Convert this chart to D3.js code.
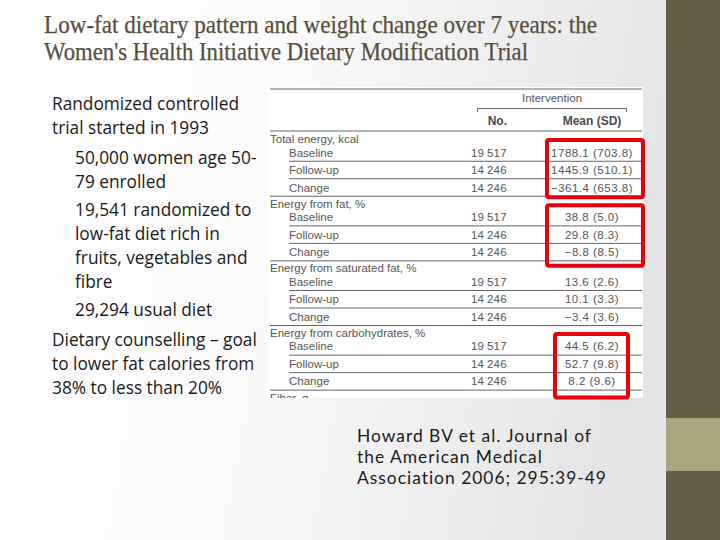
<!DOCTYPE html>
<html><head><meta charset="utf-8">
<script src="https://cdn.jsdelivr.net/npm/d3@7"></script>
<style>html,body{margin:0;padding:0;} svg{display:block;}</style>
</head><body>
<script>
// ---- data ----
const titleLines = [
  "Low-fat dietary pattern and weight change over 7 years: the",
  "Women's Health Initiative Dietary Modification Trial"
];
const bulletTexts = [
  "Randomized controlled", "trial started in 1993",
  "50,000 women age 50-", "79 enrolled",
  "19,541 randomized to", "low-fat diet rich in", "fruits, vegetables and", "fibre",
  "29,294 usual diet",
  "Dietary counselling \u2013 goal", "to lower fat calories from", "38% to less than 20%"
];
const bulletLevels = [0,0,1,1,1,1,1,1,1,0,0,0];
const citationLines = [
  "Howard BV et al. Journal of",
  "the American Medical",
  "Association 2006; 295:39-49"
];
const groups = [
  "Total energy, kcal",
  "Energy from fat, %",
  "Energy from saturated fat, %",
  "Energy from carbohydrates, %",
  "Fiber, g"
];
const rowLabels = ["Baseline", "Follow-up", "Change"];
const counts = [19517, 14246, 14246];
const means = [
  [1788.1, 1445.9, -361.4],
  [38.8, 29.8, -8.8],
  [13.6, 10.1, -3.4],
  [44.5, 52.7, 8.2]
];
const sds = [
  [703.8, 510.1, 653.8],
  [5.0, 8.3, 8.5],
  [2.6, 3.3, 3.6],
  [6.2, 9.8, 9.6]
];
const highlighted = [0, 1, 3];
const headerTop = "Intervention";
const headerCols = ["No.", "Mean (SD)"];

// ---- layout ----
const W = 720, H = 540;
const svg = d3.select("body").append("svg").attr("width", W).attr("height", H);
const defs = svg.append("defs");
const grad = defs.append("linearGradient").attr("id","bg").attr("x1","0").attr("x2","1").attr("y1","0").attr("y2","0.15");
grad.append("stop").attr("offset","0").attr("stop-color","#ffffff");
grad.append("stop").attr("offset","0.45").attr("stop-color","#fafafa");
grad.append("stop").attr("offset","1").attr("stop-color","#e5e5e7");
svg.append("rect").attr("width", 666).attr("height", H).attr("fill","url(#bg)");

// sidebar
svg.append("rect").attr("x",666).attr("y",0).attr("width",54).attr("height",H).attr("fill","#665e48");
svg.append("rect").attr("x",666).attr("y",418).attr("width",54).attr("height",53).attr("fill","#a9a57f");

// title
svg.append("g").selectAll("text").data(titleLines).join("text")
  .attr("x", 44)
  .attr("y", (d,i) => 33 + i*27)
  .attr("font-family", "'Liberation Serif', 'DejaVu Serif', serif")
  .attr("font-size", 25)
  .attr("fill", "#574f3e")
  .attr("stroke", "#574f3e")
  .attr("stroke-width", 0.25)
  .attr("textLength", (d,i) => i === 0 ? 553 : 484)
  .attr("lengthAdjust", "spacingAndGlyphs")
  .text(d => d);

// bullets
const bulletY = [104,128,158,182,210,234,258,282,310,340,364,388];
const xLevel = d3.scaleOrdinal().domain([0,1]).range([52,75]);
const bodyFont = "'Open Sans', Lato, sans-serif";
svg.append("g").selectAll("text").data(bulletTexts).join("text")
  .attr("x", (d,i) => xLevel(bulletLevels[i]))
  .attr("y", (d,i) => bulletY[i])
  .attr("dy", "0.35em")
  .attr("font-family", bodyFont)
  .attr("font-size", 17.3)
  .attr("fill", "#1a1a1a")
  .text(d => d);

// citation
svg.append("g").selectAll("text").data(citationLines).join("text")
  .attr("x", 357)
  .attr("y", (d,i) => 436 + i*21)
  .attr("dy", "0.35em")
  .attr("font-family", "Lato, 'Open Sans', sans-serif")
  .attr("font-size", 17.4)
  .attr("letter-spacing", 1.0)
  .attr("fill", "#1a1a1a")
  .text(d => d);

// ---- table ----
const tX0 = 268, tX1 = 643, tY0 = 87, tY1 = 398;
defs.append("clipPath").attr("id","tclip").append("rect")
  .attr("x", tX0).attr("y", tY0).attr("width", tX1-tX0).attr("height", tY1-tY0);
const tbl = svg.append("g").attr("clip-path","url(#tclip)");
tbl.append("rect").attr("x", tX0).attr("y", tY0).attr("width", tX1-tX0).attr("height", tY1-tY0).attr("fill","#ffffff");

const font = "'Liberation Sans', Arial, sans-serif";
const tcol = "#555555";
const fs = 11.5;
const xCol = d3.scaleOrdinal().domain(["group","row","n","mean"]).range([270, 289, 507, 592]);
const lineL = 270, lineR = 642;
const yGroup = d3.scaleLinear().domain([0, 4]).range([131, 389.5]);
const yRow = d3.scaleLinear().domain([0, 2]).range([21.5, 56.5]);
const rowH = yRow(1) - yRow(0);

// header
tbl.append("line").attr("x1", lineL).attr("x2", lineR).attr("y1", 89).attr("y2", 89).attr("stroke","#666").attr("stroke-width",1);
tbl.append("text").attr("x", 552).attr("y", 98).attr("dy","0.35em").attr("text-anchor","middle")
  .attr("font-family", font).attr("font-size", fs).attr("fill", tcol).text(headerTop);
tbl.append("path").attr("d", "M477.5,112V108.5H626.5V112").attr("fill","none").attr("stroke","#666").attr("stroke-width",1);
tbl.append("text").attr("x", xCol("n")).attr("y", 121).attr("dy","0.35em").attr("text-anchor","end")
  .attr("font-family", font).attr("font-size", 12).attr("font-weight", 700).attr("fill", "#4a4a4a").text(headerCols[0]);
tbl.append("text").attr("x", xCol("mean")).attr("y", 121).attr("dy","0.35em").attr("text-anchor","middle")
  .attr("font-family", font).attr("font-size", 12).attr("font-weight", 700).attr("fill", "#4a4a4a").text(headerCols[1]);
tbl.append("line").attr("x1", lineL).attr("x2", lineR).attr("y1", yGroup(0)).attr("y2", yGroup(0)).attr("stroke","#666").attr("stroke-width",1);

const fmtN = n => d3.format(",")(n).replace(",", "\u2009");
const fmtM = d3.format(".1f");

const gSel = tbl.selectAll("g.grp").data(groups).join("g").attr("class","grp")
  .attr("transform", (d,i) => `translate(0,${yGroup(i)})`);
gSel.append("text").attr("x", xCol("group")).attr("y", 8).attr("dy","0.35em")
  .attr("font-family", font).attr("font-size", fs).attr("fill", tcol).text(d => d);

gSel.filter((d,i) => i < means.length).each(function(d, gi) {
  const g = d3.select(this);
  rowLabels.forEach((lab, ri) => {
    const y = yRow(ri);
    g.append("text").attr("x", xCol("row")).attr("y", y).attr("dy","0.35em")
      .attr("font-family", font).attr("font-size", fs).attr("fill", tcol).text(lab);
    g.append("text").attr("x", xCol("n")).attr("y", y).attr("dy","0.35em").attr("text-anchor","end")
      .attr("font-family", font).attr("font-size", fs).attr("letter-spacing", 0.3).attr("fill", tcol).text(fmtN(counts[ri]));
    g.append("text").attr("x", xCol("mean")).attr("y", y).attr("dy","0.35em").attr("text-anchor","middle")
      .attr("font-family", font).attr("font-size", fs).attr("letter-spacing", 0.5).attr("fill", tcol)
      .text(`${fmtM(means[gi][ri])} (${fmtM(sds[gi][ri])})`);
    const ly = y + rowH/2;
    g.append("line").attr("x1", ri === 2 ? lineL : xCol("row")).attr("x2", lineR).attr("y1", ly).attr("y2", ly)
      .attr("stroke", "#666").attr("stroke-width", 1);
  });
});

// red highlight boxes
const boxStyle = {0:{x0:545,x1:645,top:7,bot:3.5}, 1:{x0:545,x1:645,top:7.5,bot:7.5}, 3:{x0:553,x1:630,top:7,bot:10}};
svg.append("g").selectAll("rect").data(highlighted).join("rect")
  .attr("x", d => boxStyle[d].x0 + 2)
  .attr("y", d => yGroup(d) + boxStyle[d].top + 2)
  .attr("width", d => boxStyle[d].x1 - boxStyle[d].x0 - 4)
  .attr("height", d => (yGroup(d+1) + boxStyle[d].bot) - (yGroup(d) + boxStyle[d].top) - 4)
  .attr("rx", 2)
  .attr("fill", "none")
  .attr("stroke", "#e8000a")
  .attr("stroke-width", 4);
</script>
</body></html>
